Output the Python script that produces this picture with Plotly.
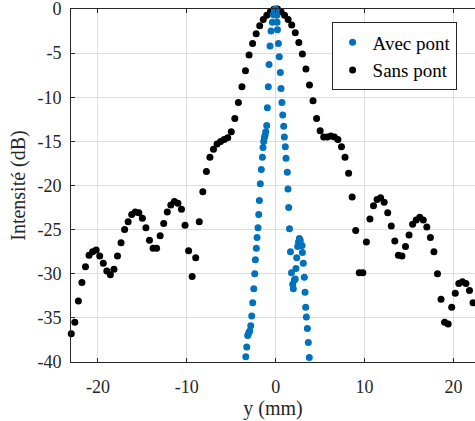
import plotly.graph_objects as go

# ---- Data ----
sans_x = [-23.0, -22.6, -22.2, -21.8, -21.4, -21.0, -20.6, -20.2, -19.8, -19.4,
          -19.0, -18.6, -18.2, -17.8, -17.4, -17.0, -16.6, -16.2, -15.8, -15.4,
          -15.0, -14.6, -14.2, -13.8, -13.4, -13.0, -12.6, -12.2, -11.8, -11.4,
          -11.0, -10.6, -10.2, -9.8, -9.4, -9.0, -8.6, -8.2, -7.8, -7.4,
          -7.0, -6.6, -6.2, -5.8, -5.4, -5.0, -4.6, -4.2, -3.8, -3.4,
          -3.0, -2.6, -2.2, -1.8, -1.4, -1.0, -0.6, -0.2, 0.2, 0.6,
          1.0, 1.4, 1.8, 2.2, 2.6, 3.0, 3.4, 3.8, 4.2, 4.6,
          5.0, 5.4, 5.8, 6.2, 6.6, 7.0, 7.4, 7.8, 8.2, 8.6,
          9.0, 9.4, 9.8, 10.2, 10.6, 11.0, 11.4, 11.8, 12.2, 12.6,
          13.0, 13.4, 13.8, 14.2, 14.6, 15.0, 15.4, 15.8, 16.2, 16.6,
          17.0, 17.4, 17.8, 18.2, 18.6, 19.0, 19.4, 19.8, 20.2, 20.6,
          21.0, 21.4, 21.8, 22.2, 22.6]
sans_y = [-36.8, -35.5, -33.1, -31.0, -29.2, -27.9, -27.5, -27.3, -28.0, -28.8,
          -29.7, -30.1, -29.5, -28.0, -26.5, -25.0, -24.1, -23.3, -23.0, -23.1,
          -23.7, -24.8, -26.2, -27.1, -27.1, -25.7, -24.3, -23.0, -22.2, -21.8,
          -22.0, -22.7, -24.5, -27.4, -30.3, -28.2, -24.1, -20.7, -18.4, -16.8,
          -15.9, -15.3, -15.0, -14.8, -14.6, -13.9, -12.4, -10.6, -8.8, -7.0,
          -5.2, -3.9, -2.8, -1.9, -1.2, -0.7, -0.3, -0.02, 0.0, -0.3,
          -0.7, -1.2, -1.8, -2.7, -3.8, -5.1, -6.8, -8.6, -10.4, -12.4,
          -13.8, -14.5, -14.5, -14.4, -14.5, -14.8, -15.6, -16.8, -18.6, -21.3,
          -25.1, -29.9, -29.9, -26.4, -23.8, -22.3, -21.6, -21.4, -21.9, -23.1,
          -24.6, -26.3, -27.9, -28.0, -26.9, -25.6, -24.4, -23.9, -23.6, -23.9,
          -24.7, -25.9, -27.5, -30.0, -32.9, -35.5, -35.7, -33.8, -32.2, -31.1,
          -30.9, -31.1, -31.9, -33.3, -35.5]

avec_x = [-3.37, -3.26, -3.15, -3.04, -2.92, -2.81, -2.70, -2.59, -2.47, -2.36,
          -2.29, -2.18, -2.10, -1.99, -1.91, -1.84, -1.73, -1.62, -1.50, -1.43,
          -1.35, -1.28, -1.20, -1.12, -1.01, -0.94, -0.83, -0.75, -0.64, -0.53,
          -0.38, -0.27, -0.16, -0.04, 0.07, 0.12, 0.15, 0.20, 0.30, 0.40,
          0.52, 0.60, 0.70, 0.79, 0.90, 0.97, 1.08, 1.16, 1.30, 1.38,
          1.46, 1.55, 1.66, 1.77, 1.91, 1.98, 2.09, 2.20, 2.28, 2.36,
          2.47, 2.56, 2.66, 2.76, 2.85, 2.96, 3.00, 3.10, 3.22, 3.30,
          3.37, 3.45, 3.56, 3.67, 3.78]
avec_y = [-39.4, -38.3, -37.0, -36.7, -36.5, -35.9, -34.8, -33.3, -31.7, -30.0,
          -28.4, -27.1, -25.9, -24.8, -23.3, -21.7, -19.8, -18.2, -16.8, -15.7,
          -15.0, -14.6, -14.3, -13.9, -13.2, -11.2, -8.8, -6.3, -4.2, -2.5,
          -1.5, -0.65, -0.16, 0.0, -0.2, -0.7, -1.5, -2.35, -3.9, -5.4,
          -7.2, -9.0, -10.6, -12.0, -13.3, -14.5, -15.6, -16.9, -18.5, -20.4,
          -22.5, -24.9, -27.5, -29.9, -31.2, -31.7, -30.7, -30.6, -29.4, -28.2,
          -26.9, -26.4, -26.0, -26.2, -26.8, -26.8, -27.6, -28.8, -30.4, -32.1,
          -33.8, -34.9, -36.2, -37.8, -39.5]

xtick_vals = [-20, -10, 0, 10, 20]
xtick_text = ["-20", "-10", "0", "10", "20"]
ytick_vals = [-40, -35, -30, -25, -20, -15, -10, -5, 0]
ytick_text = ["-40", "-35", "-30", "-25", "-20", "-15", "-10", "-5", "0"]

FONT = "Liberation Serif"
AX = "#262626"
GRID = "#dedede"

fig = go.Figure()
fig.add_trace(go.Scatter(
    x=sans_x, y=sans_y, mode="markers", name="Sans pont",
    marker=dict(color="#000000", size=7, line=dict(width=0)),
    cliponaxis=False, legendrank=2))
fig.add_trace(go.Scatter(
    x=avec_x, y=avec_y, mode="markers", name="Avec pont",
    marker=dict(color="#0072BD", size=7, line=dict(width=0)),
    cliponaxis=False, legendrank=1))

fig.update_layout(
    width=475, height=421,
    margin=dict(l=71, r=0, t=9, b=59),
    paper_bgcolor="white", plot_bgcolor="white",
    font=dict(family=FONT, size=18, color=AX),
    showlegend=True,
    legend=dict(
        x=0.645, y=0.962, xanchor="left", yanchor="top",
        bgcolor="white", bordercolor=AX, borderwidth=1,
        font=dict(family=FONT, size=19, color="#000000"),
        tracegroupgap=0,
    ),
    xaxis=dict(
        range=[-23.03, 22.42],
        tickmode="array", tickvals=xtick_vals, ticktext=xtick_text,
        ticks="inside", ticklen=4, tickcolor=AX, tickwidth=1,
        showline=True, linecolor=AX, linewidth=1, mirror="ticks",
        showgrid=True, gridcolor=GRID, gridwidth=1, zeroline=False,
        ticklabelstandoff=8, ticklabeloverflow="allow",
        tickfont=dict(family=FONT, size=18, color=AX),
        title=dict(text="y (mm)", font=dict(family=FONT, size=20, color=AX), standoff=4),
    ),
    yaxis=dict(
        range=[-40, 0],
        tickmode="array", tickvals=ytick_vals, ticktext=ytick_text,
        ticks="inside", ticklen=4, tickcolor=AX, tickwidth=1,
        showline=True, linecolor=AX, linewidth=1, mirror=False,
        showgrid=True, gridcolor=GRID, gridwidth=1, zeroline=False,
        ticklabelstandoff=5, ticklabeloverflow="allow",
        tickfont=dict(family=FONT, size=18, color=AX),
        title=dict(text="Intensité (dB)", font=dict(family=FONT, size=20, color=AX), standoff=6),
    ),
)

fig.write_html("out.html", config={"displayModeBar": False},
               post_script="document.body.style.margin='0';")
